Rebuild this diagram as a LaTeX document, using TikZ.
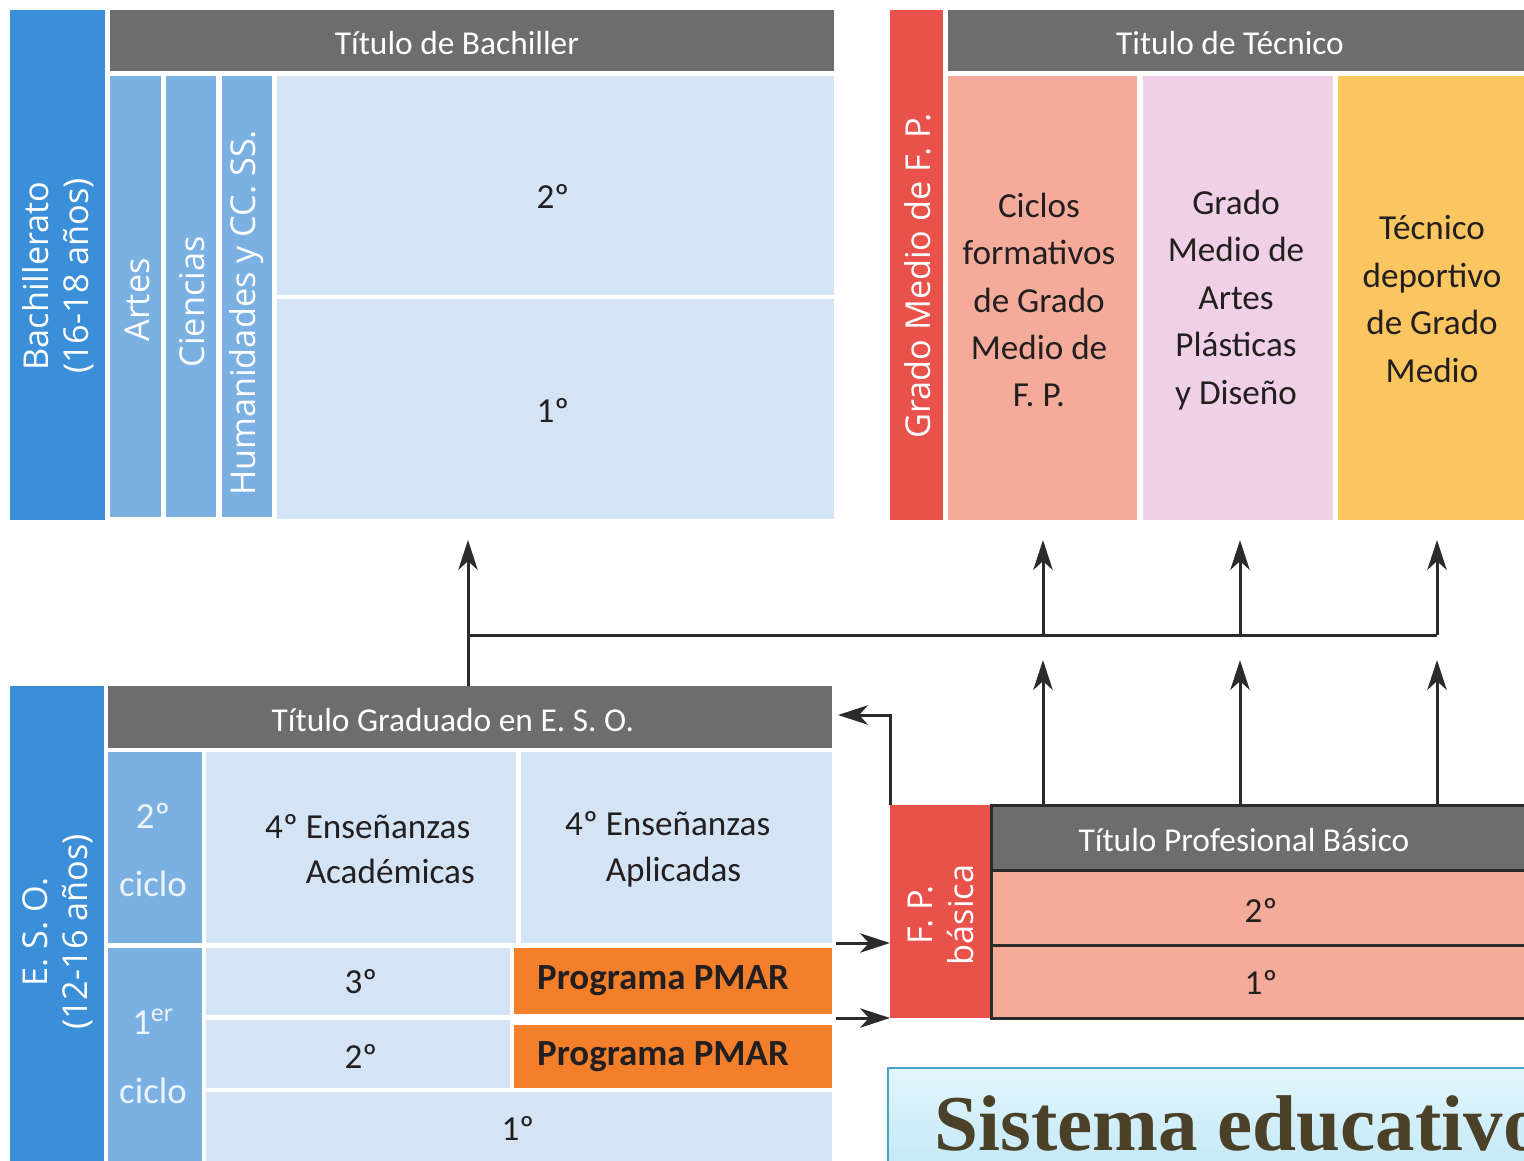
\documentclass[tikz,border=0pt]{standalone}
\usepackage{fontspec}
\setmainfont{Carlito}
\newfontfamily\vfont{Open Sans}
\newfontfamily\ttlfont{Liberation Serif}
\usetikzlibrary{arrows.meta,fit}
\definecolor{dblue}{HTML}{3B8FD8}
\definecolor{mblue}{HTML}{7BB0E2}
\definecolor{lblue}{HTML}{D4E4F4}
\definecolor{hgray}{HTML}{6D6D6D}
\definecolor{fpred}{HTML}{E8524B}
\definecolor{salmon}{HTML}{F4AB99}
\definecolor{pinkc}{HTML}{EFD0E6}
\definecolor{yellowc}{HTML}{FBC55F}
\definecolor{orangec}{HTML}{F37F2B}
\definecolor{linec}{HTML}{2B2B2B}
\definecolor{txt}{HTML}{231F20}
\definecolor{ttl}{HTML}{4A4128}
\definecolor{tbord}{HTML}{48A5C9}
\definecolor{ttop}{HTML}{E2F6FC}
\definecolor{tbot}{HTML}{C2E8F6}
\definecolor{cyc}{HTML}{EDF4FC}
\tikzset{
  box/.style={inner sep=0pt, outer sep=0pt, draw=none},
  hdr/.style={text=white, font=\fontsize{19}{23}\selectfont},
  celltext/.style={text=txt, align=center, font=\fontsize{20}{27}\selectfont},
  vlab/.style={text=white, rotate=90, align=center, font=\vfont\fontsize{19.5}{23}\selectfont},
  cyclab/.style={text=cyc, align=center, font=\fontsize{21}{39}\selectfont},
  pmartext/.style={text=txt, font=\bfseries\fontsize{21}{24}\selectfont},
  conn/.style={draw=linec, line width=1.7pt},
  arr/.style={conn, -{Stealth[length=17pt,width=11pt,inset=5pt]}},
  fpbox/.style={box, draw=linec, line width=1.7pt}
}
\begin{document}
\begin{tikzpicture}[x=0.02cm,y=-0.02cm]
\useasboundingbox (0,0) rectangle (1524,1160);
\begin{scope}
\clip (0,0) rectangle (1524,1160);
\fill[white] (0,0) rectangle (1524,1160);

% ---------- Bachillerato ----------
\node[box, fill=dblue, fit={(10,10) (105,520)}] (bach) {};
\node[vlab] (bachl) at (58,276) {Bachillerato\\(16-18 años)};
\node[box, fill=hgray, fit={(110,10) (834,71)}] (tbach) {};
\node[hdr] (tbachl) at (457,43) {Título de Bachiller};
\node[box, fill=mblue, fit={(110,76) (161,517)}] (artes) {};
\node[vlab] (artesl) at (137,300) {Artes};
\node[box, fill=mblue, fit={(166,76) (216,517)}] (cien) {};
\node[vlab] (cienl) at (192,302) {Ciencias};
\node[box, fill=mblue, fit={(222,76) (272,517)}] (hum) {};
\node[vlab] (huml) at (247,313) {Humanidades y CC. SS.};
\node[box, fill=lblue, fit={(277,76) (834,295)}] (bdos) {};
\node[celltext] (bdosl) at (553,196) {2º};
\node[box, fill=lblue, fit={(277,299) (834,519)}] (buno) {};
\node[celltext] (bunol) at (553,410) {1º};

% ---------- Grado Medio ----------
\node[box, fill=fpred, fit={(890,10) (943,520)}] (gm) {};
\node[vlab] (gml) at (918,276) {Grado Medio de F. P.};
\node[box, fill=hgray, fit={(948,10) (1530,71)}] (ttec) {};
\node[hdr] (ttecl) at (1230,43) {Titulo de Técnico};
\node[box, fill=salmon, fit={(948,76) (1137,520)}] (ciclos) {};
\node[celltext] (ciclosl) at (1039,300) {Ciclos\\formativos\\de Grado\\Medio de\\F. P.};
\node[box, fill=pinkc, fit={(1143,76) (1333,520)}] (apd) {};
\node[celltext] (apdl) at (1236,300) {Grado\\Medio de\\Artes\\Plásticas\\y Diseño};
\node[box, fill=yellowc, fit={(1338,76) (1530,520)}] (tdep) {};
\node[celltext] (tdepl) at (1432,299) {Técnico\\deportivo\\de Grado\\Medio};

% ---------- E.S.O. ----------
\node[box, fill=dblue, fit={(10,686) (104,1165)}] (eso) {};
\node[vlab] (esol) at (58,932) {E. S. O.\\(12-16 años)};
\node[box, fill=hgray, fit={(108,686) (832,748)}] (esoh) {};
\node[hdr] (esohl) at (453,720) {Título Graduado en E. S. O.};
\node[box, fill=mblue, fit={(108,752) (202,943)}] (cdos) {};
\node[cyclab] (cdosl) at (153,850) {2º\\ciclo};
\node[box, fill=mblue, fit={(108,948) (202,1165)}] (cuno) {};
\node[cyclab] (cunol) at (153,1056) {1\textsuperscript{er}\\ciclo};
\node[box, fill=lblue, fit={(206,752) (516,943)}] (acad) {};
\node[celltext, align=left, anchor=west, font=\fontsize{20}{26}\selectfont] (acadl) at (259,849) {4º Enseñanzas\\\phantom{4º }Académicas};
\node[box, fill=lblue, fit={(521,752) (832,943)}] (aplic) {};
\node[celltext, align=left, anchor=west, font=\fontsize{20}{26}\selectfont] (aplicl) at (559,849) {4º Enseñanzas\\\phantom{4º }Aplicadas};
\node[box, fill=lblue, fit={(206,948) (510,1015)}] (rtres) {};
\node[celltext] (rtresl) at (361,982) {3º};
\node[box, fill=orangec, fit={(514,948) (832,1014)}] (pmtres) {};
\node[pmartext] (pmtresl) at (663,981) {Programa PMAR};
\node[box, fill=lblue, fit={(206,1020) (510,1088)}] (rdos) {};
\node[celltext] (rdosl) at (361,1056) {2º};
\node[box, fill=orangec, fit={(514,1025) (832,1088)}] (pmdos) {};
\node[pmartext] (pmdosl) at (663,1057) {Programa PMAR};
\node[box, fill=lblue, fit={(206,1092) (832,1165)}] (runo) {};
\node[celltext] (runol) at (518,1128) {1º};

% ---------- F.P. basica ----------
\node[box, fill=fpred, fit={(890,805) (991,1018)}] (fpb) {};
\node[vlab] (fpbl) at (941,915) {F. P.\\básica};
\node[fpbox, fill=hgray, fit={(991,805) (1540,870)}] (fph) {};
\node[hdr] (fphl) at (1244,840) {Título Profesional Básico};
\node[fpbox, fill=salmon, fit={(991,870) (1540,945)}] (fdos) {};
\node[celltext] (fdosl) at (1261,910) {2º};
\node[fpbox, fill=salmon, fit={(991,945) (1540,1018)}] (funo) {};
\node[celltext] (funol) at (1261,982) {1º};

% ---------- title box ----------
\node[box, draw=tbord, line width=1.2pt, top color=ttop, bottom color=tbot, fit={(888,1068) (1545,1175)}] (tbox) {};
\node[anchor=base west, text=ttl, inner sep=0pt, font=\ttlfont\bfseries\fontsize{45}{50}\selectfont] (tboxl) at (934,1150) {Sistema educativo};

% ---------- connectors ----------
\coordinate (ja) at (468,635);
\coordinate (jb) at (1043,635);
\coordinate (jc) at (1240,635);
\coordinate (jd) at (1437,635);
\coordinate (topy) at (0,540);
\coordinate (midy) at (0,660);
\draw[arr] (esoh.north -| ja) -- (ja |- topy);
\draw[conn] (ja) -- (jd);
\draw[arr] (jb) -- (jb |- topy);
\draw[arr] (jc) -- (jc |- topy);
\draw[arr] (jd) -- (jd |- topy);
\draw[arr] (fph.north -| jb) -- (jb |- midy);
\draw[arr] (fph.north -| jc) -- (jc |- midy);
\draw[arr] (fph.north -| jd) -- (jd |- midy);
\coordinate (eback) at (838,715);
\draw[arr] (fpb.north west) |- (eback);
\coordinate (sa) at (836,943);
\coordinate (sb) at (836,1018);
\draw[arr] (sa) -- (sa -| fpb.west);
\draw[arr] (sb) -- (sb -| fpb.west);
\end{scope}
\end{tikzpicture}
\end{document}
